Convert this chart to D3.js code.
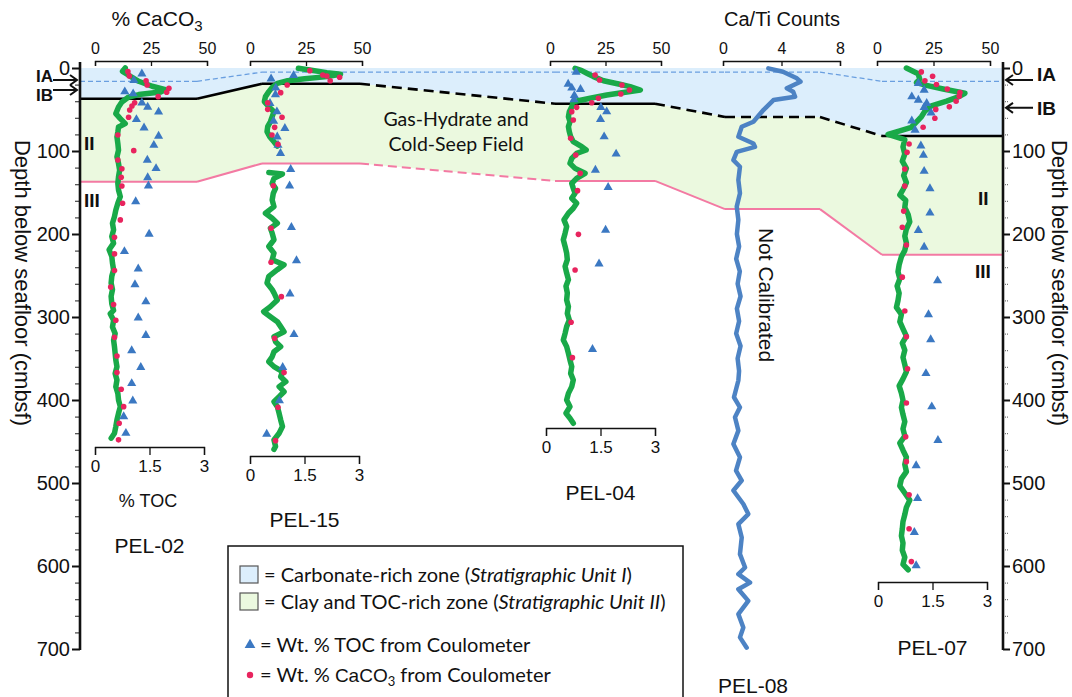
<!DOCTYPE html>
<html>
<head>
<meta charset="utf-8">
<script src="https://cdn.jsdelivr.net/npm/d3@7"></script>
<style>
  body { margin: 0; background: #fff; }
  svg text { font-family: "Liberation Sans", Arial, sans-serif; fill: #111; }
  svg text.calib, svg text.calib tspan { font-family: Lato, "Open Sans", sans-serif; }
  svg text tspan.arial { font-family: "Liberation Sans", Arial, sans-serif; }
</style>
</head>
<body>
<svg id="chart" width="1072" height="697"></svg>
<script>
// ---- data (depth in cm, value) ----
const coreNames = ["PEL-02", "PEL-15", "PEL-04", "PEL-08", "PEL-07"];
const caco3Ticks = [0, 25, 50];
const tocTicks = [0, 1.5, 3];
const caTiTicks = [0, 4, 8];
const depthTicks = [0, 100, 200, 300, 400, 500, 600, 700];

// unit boundaries per core (cm), same order as coreNames
const unitIABase = [16, 5, 5, 5, 16];
const unitIBase = [37, 19, 43, 59, 82];
const unitIIBase = [137, 115, 136, 170, 225];

// zone label arrows (cm)
const arrowsLeft = [["IA", 14.5], ["IB", 26.5]];
const arrowsRight = [["IA", 14.5], ["IB", 48]];

const pel02Line = [[0,13.5],[4,12.3],[10,15.8],[16,19.5],[22,25.5],[26,31.5],[29,29.3],[32,19.5],[35,15],[41,12],[47,10.5],[55,9.3],[61,11.3],[67,13.5],[71,10.5],[77,10.2],[83,9.8],[91,10.2],[99,10.5],[107,9.8],[115,10.5],[123,11],[131,10.5],[139,10.2],[147,10.5],[155,11.3],[163,10.2],[171,9.3],[179,8.7],[187,7.8],[195,8.3],[203,7.5],[211,8.3],[219,6.3],[227,7.5],[235,7.8],[243,8.3],[251,7.5],[259,7.2],[267,7.8],[275,7.2],[284,7.5],[292,8.3],[296,6.8],[304,8.3],[312,7.8],[320,9],[328,8.3],[336,8.7],[344,9],[352,9.3],[360,9.8],[368,9],[376,9.8],[384,9.3],[392,10.2],[400,10.5],[408,11.3],[416,10.5],[424,9.8],[432,9.3],[440,8.7],[446,7.2]];
const pel02Dots = [[4.4,14.7],[9.6,15.3],[15.3,22.8],[20.5,23.3],[24.5,33],[29.3,32],[34.5,28.2],[41.8,17.7],[45.8,16.5],[50.6,15.5],[59.4,15],[80.7,10.2],[99.6,17.3],[110.8,10.2],[121.3,12],[131.7,11.7],[142.2,12],[163,12.3],[183,11.3],[204,8.7],[224,8.7],[244,8.7],[264,7],[285,8.3],[304,9.3],[324.5,8.7],[347,9.8],[367,9.8],[387,11.7],[408,12.8],[428,10.8],[448,10.5]];
const pel02Toc = [[7,1.29],[15,1.07],[28.5,0.82],[31,1.05],[42,1.29],[47,1.45],[53,1.75],[62,1.14],[72,1.35],[82,1.75],[93,1.62],[111,1.44],[121,1.68],[132,1.45],[142,1.47],[161,1.12],[200,1.49],[221,0.81],[242,1.19],[261,1.1],[281.5,1.4],[301,1.19],[322,1.4],[340.5,1.01],[360.6,1.26],[380,1.01],[401,1.04],[420,0.79],[440,0.85]];

const pel15LineTop = [[0.4,21.6],[2.4,26.7],[5.6,34.3],[7.6,40.4],[10.4,34.3],[12.9,24.4],[15.3,16.8],[18.5,12.2],[23.3,9.9],[28.5,8.4],[34.5,6.9],[40.6,6.4],[46.6,8.4],[52.6,10.7],[58.6,9.9],[64.7,9.1],[70.7,7.9],[76.7,7.6],[82.7,8.8],[88.8,10.7],[94,12.2]];
const pel15LineBottom = [[126,8.4],[127.7,14.5],[133,10.7],[139,9.9],[145,11.4],[151,10.4],[159,9.9],[167,10.7],[175,6.9],[181,9.9],[187,12.2],[193,9.1],[199,9.9],[207,10.7],[215,8.4],[223,10.7],[231,9.9],[237,15.2],[243,12.2],[251,8.4],[259,7.6],[267,9.9],[271,10.7],[279.5,12.2],[287.5,9.1],[293.6,6.1],[299.6,9.1],[305.6,12.2],[311.6,13.7],[317.7,15.2],[323.7,10.7],[329.7,11.4],[335.7,13.7],[341.8,10.7],[347.8,9.9],[353.8,8.4],[359.8,10.7],[365.9,14.5],[371.9,13.7],[377.9,16],[383.9,13],[390,15.2],[396,13],[402,10.7],[408,12.2],[416,13],[424,13.7],[432,14.5],[440,13],[448,10.7],[456,11.4],[459.4,10.7]];
const pel15Dots = [[3.2,26.7],[8.4,32.5],[9.6,34.3],[11.2,40],[15.3,35.8],[20.5,16.6],[29.7,13.7],[41.8,7.9],[49.8,7.9],[59.4,14.3],[71.5,11],[80.7,9.8],[92,12.5],[142,10.4],[193,9.4],[234,9.4],[275.5,14],[325.7,11],[367,15.2],[408.8,12.5],[449,11.4]];
const pel15Toc = [[9,1.2],[13,0.58],[24,0.71],[32,0.7],[42.6,0.55],[52.6,0.74],[63.9,0.65],[72.7,0.96],[82.9,0.75],[92.8,0.77],[102.8,0.84],[122,1.12],[142,1.09],[192,1.14],[232,1.28],[272,1.1],[321,1.21],[360.6,0.9],[400.8,0.81],[441,0.46]];

const pel04Line = [[0.4,11.3],[3.2,14.3],[6.4,16.6],[10.4,19.6],[15.3,24.1],[19.3,30.9],[22.5,36.1],[26.5,40.7],[29.3,33.9],[32.5,25.6],[36.5,18.1],[40.6,10.5],[46.6,9.8],[52.6,8.7],[58.6,8.3],[64.7,9],[70.7,8.3],[76.7,8.7],[82.7,9.3],[88.8,10.5],[94.8,14.3],[98.8,16.3],[102.8,12],[108.8,9.8],[114.9,9],[120.9,11.3],[126.9,15.8],[132.9,12],[139,9.8],[145,10.5],[151,11.3],[157,9.8],[163,12],[169,10.5],[175,8.3],[183,6.3],[191,7.5],[199,6.8],[207,6],[215,6.8],[223,7.5],[231,7.8],[239,6.8],[247,7.5],[255,8.3],[263,7.2],[271,7.8],[279.5,7.5],[287.5,8.3],[295.6,7.8],[303.6,8.7],[311.6,7.5],[319.7,6.8],[327.7,6],[335.7,7.5],[343.8,8.3],[351.8,9],[359.8,9.8],[367.9,9.3],[375.9,10.5],[383.9,9.8],[392,8.3],[400,7.5],[408,9],[416,7.2],[422,9],[428,10.5]];
const pel04Dots = [[8.4,20.3],[14.5,22.3],[20.5,32.4],[26.5,35.8],[31.3,31.9],[36.5,21.8],[41.8,18.8],[47.4,12],[52.6,9.8],[62.7,10.5],[84.7,9.3],[104.8,11.6],[126.9,13.6],[147.8,12.4],[200.4,12.8],[243.4,11.3],[306.4,9.5],[349,10.1]];
const pel04Toc = [[5,0.83],[19.3,0.61],[24,0.71],[25.7,0.95],[33,0.78],[38,0.77],[47.4,1.51],[52.6,1.67],[61.8,1.5],[82.7,1.6],[103.6,1.93],[122.9,1.36],[143.8,1.71],[195.2,1.64],[236,1.46],[338.9,1.28]];

const pel08Line = [[0.4,3.1],[4.5,4.1],[12.4,5.05],[16.5,5.3],[24.5,4.36],[28.6,4.8],[34.6,4.93],[38.6,3.45],[50.7,2.76],[64.8,2.08],[70.8,1.28],[82.9,1.05],[90.9,2.08],[95,2.19],[101,0.94],[111,0.71],[119,1.16],[135,1.05],[151,1.16],[167,0.94],[183,1.05],[200,0.95],[215,1.1],[230,0.9],[245,1.15],[260,1.0],[275,1.2],[290,0.95],[305,1.1],[320,0.9],[335,1.2],[350,1.0],[365,1.1],[376.5,1.05],[396.7,0.75],[408.8,1.16],[420.8,0.82],[436.9,1.05],[453,0.71],[469,1.16],[485,0.89],[497,1.28],[509,0.71],[525.3,1.39],[537.4,1.73],[549.5,1.05],[565.7,1.28],[585.7,1.16],[601.8,1.51],[609.8,1.05],[620,1.85],[628,1.05],[642,1.73],[658,1.05],[674,1.39],[686,1.16],[698.4,1.62]];

const pel07Line = [[0,13],[6.9,18.2],[13.3,18.9],[17.6,17.5],[21,21.9],[25.3,29.3],[30.5,38.9],[34.8,36],[40,30.8],[45.6,24.1],[52,21.2],[58.5,19.7],[65,17.5],[71.4,15.2],[75.7,10.1],[80,4.9],[86.4,12.3],[95,11.5],[103.6,12.3],[112.2,11.2],[120.8,13],[129.4,11.8],[138,13],[146.6,11.5],[153,10.1],[159.5,12.7],[168,12.3],[176.7,13.8],[185.3,14.5],[194,13],[202.5,12.3],[211,13],[219.7,12.3],[227.4,10.8],[237,9.8],[245.5,9.3],[254,10.1],[262.7,8.9],[271.3,9.8],[280,9.3],[288.5,8.6],[297,10.8],[305.7,10.1],[314.3,11.5],[323,13],[331.5,11.2],[340,12.3],[348.7,11.5],[357.3,12.3],[366,13],[374.5,11.5],[383,9.8],[391.7,10.8],[400.3,11.5],[409,10.8],[417.5,11.5],[426,12.3],[434.7,11.5],[443.3,12.3],[452,10.1],[460.5,11.5],[469,13],[477.7,12.3],[486.3,13],[495,10.8],[503.5,10.1],[512,12.3],[520.7,14.5],[529.3,13],[538,12.3],[546.5,11.5],[555,11.2],[563.7,10.8],[572.3,11.5],[581,11.2],[589.5,12.3],[598,11.5],[604.5,13.8]];
const pel07Dots = [[4.7,19.6],[9.9,24.6],[15.5,21.2],[19.8,26.3],[25.3,31.1],[29.6,36.7],[34,36.4],[40,35],[46.8,32],[49.9,26],[60.6,25.6],[71.4,20.4],[91.6,14.2],[101.5,13.3],[121.7,12.3],[142.3,12.3],[172.4,11.8],[191.8,11.2],[213.3,13],[252,11.2],[292.8,12.3],[323.8,13],[362.5,13.5],[403.7,13],[444.2,12.7],[474.3,13],[514.3,14.2],[555.1,14.2],[594.7,15.2]];
const pel07Toc = [[18.5,1.11],[26.5,1.27],[34.6,0.93],[38.6,1.11],[42.6,1.34],[47.4,1.27],[54,1.46],[63.6,0.93],[74.8,1.02],[93.8,1.18],[105,1.25],[124.3,1.27],[145.2,1.43],[174.6,1.43],[195.5,1.11],[215.7,1.27],[256.3,1.64],[297.1,1.39],[327.2,1.45],[368,1.32],[408,1.48],[448.5,1.65],[479,1.05],[518.6,1.09],[559.4,1.0],[599.4,1.05]];

// ---- layout ----
const svg = d3.select("#chart");
const axisL = 80, axisR = 1003;
const y = d3.scaleLinear().domain([0, 700]).range([68, 649]);
const colSpans = [[axisL, 197], [262, 360], [555, 655], [725, 820], [882, axisR]];
const blueFill = "#dceefc", greenFill = "#ebf9df";
const greenLine = "#19a948", redDot = "#e8245e", blueTri = "#3b78c2", caTiColor = "#4d83c4";
const fmt = d3.format("~g");

const tracks = {
  "PEL-02": { cx: [95, 207], tx: [95, 204], tocY: 447, nameY: 553 },
  "PEL-15": { cx: [250, 362], tx: [250, 359], tocY: 456, nameY: 527 },
  "PEL-04": { cx: [550, 661], tx: [546, 655], tocY: 428, nameY: 500 },
  "PEL-07": { cx: [877, 990], tx: [878, 987], tocY: 582, nameY: 655 }
};

function styleAxis(g, size) {
  g.selectAll("text").attr("font-size", size).attr("fill", "#111");
  g.selectAll("path,line").attr("stroke", "#111").attr("stroke-width", 1.3);
}

// ---- zones ----
function boundaryPoints(depths) {
  const pts = [];
  depths.forEach((d, i) => {
    pts.push([colSpans[i][0], d]);
    pts.push([colSpans[i][1], d]);
  });
  return pts;
}
const ptsIA = boundaryPoints(unitIABase);
const ptsI = boundaryPoints(unitIBase);
const ptsII = boundaryPoints(unitIIBase);

svg.append("path")
  .attr("d", d3.area().x(p => p[0]).y0(y(0)).y1(p => y(p[1]))(ptsI))
  .attr("fill", blueFill);
svg.append("path")
  .attr("d", d3.area().x(p => p[0]).y0(p => y(p[1])).y1((p, i) => y(ptsII[i][1]))(ptsI))
  .attr("fill", greenFill);

// segment styles: flat, gap, flat, gap ...
const blackStyle = ["s", "s", "s", "d", "s", "d", "d", "d", "s"];
const pinkStyle = ["s", "s", "s", "d", "s", "s", "s", "s", "s"];
function drawBoundary(pts, styles, color, width, dash) {
  for (let i = 0; i < pts.length - 1; i++) {
    svg.append("line")
      .attr("x1", pts[i][0]).attr("y1", y(pts[i][1]))
      .attr("x2", pts[i + 1][0]).attr("y2", y(pts[i + 1][1]))
      .attr("stroke", color).attr("stroke-width", width)
      .attr("stroke-dasharray", styles[i] === "d" ? dash : null);
  }
}
drawBoundary(ptsIA, ptsIA.map(() => "d"), "#6a9fe0", 1.3, "5,3");
drawBoundary(ptsII, pinkStyle, "#f37aa3", 2, "9,5");
drawBoundary(ptsI, blackStyle, "#000", 2.6, "10,6");

// ---- cores ----
function drawCore(name, lines, dots, toc) {
  const t = tracks[name];
  const xc = d3.scaleLinear().domain([0, 50]).range(t.cx);
  const xt = d3.scaleLinear().domain([0, 3]).range(t.tx);
  const g = svg.append("g");
  const line = d3.line().x(d => xc(d[1])).y(d => y(d[0]));
  lines.forEach(l => {
    g.append("path").attr("d", line(l))
      .attr("fill", "none").attr("stroke", greenLine)
      .attr("stroke-width", 5.5).attr("stroke-linejoin", "round").attr("stroke-linecap", "round");
  });
  g.selectAll(".tri").data(toc).join("path")
    .attr("d", d3.symbol(d3.symbolTriangle, 36))
    .attr("transform", d => `translate(${xt(d[1])},${y(d[0])})`)
    .attr("fill", blueTri);
  g.selectAll(".dot").data(dots).join("circle")
    .attr("cx", d => xc(d[1])).attr("cy", d => y(d[0])).attr("r", 2.8)
    .attr("fill", redDot);

  const top = g.append("g").attr("transform", "translate(0,61)")
    .call(d3.axisTop(xc).tickValues(caco3Ticks).tickFormat(fmt).tickSize(-5).tickPadding(7));
  styleAxis(top, 16);

  const bot = g.append("g").attr("transform", `translate(0,${t.tocY})`)
    .call(d3.axisBottom(xt).tickValues(tocTicks).tickFormat(fmt).tickSize(8).tickPadding(5));
  styleAxis(bot, 17);

  svg.append("text").attr("x", d3.mean(t.tx)).attr("y", t.nameY)
    .attr("text-anchor", "middle").attr("font-size", 21).text(name);
}
drawCore("PEL-02", [pel02Line], pel02Dots, pel02Toc);
drawCore("PEL-15", [pel15LineTop, pel15LineBottom], pel15Dots, pel15Toc);
drawCore("PEL-04", [pel04Line], pel04Dots, pel04Toc);
drawCore("PEL-07", [pel07Line], pel07Dots, pel07Toc);

// PEL-08 Ca/Ti
const xCaTi = d3.scaleLinear().domain([0, 8]).range([723, 840]);
svg.append("path")
  .attr("d", d3.line().x(d => xCaTi(d[1])).y(d => y(d[0]))(pel08Line))
  .attr("fill", "none").attr("stroke", caTiColor).attr("stroke-width", 4.5)
  .attr("stroke-linejoin", "round").attr("stroke-linecap", "round");
const caAxis = svg.append("g").attr("transform", "translate(0,61)")
  .call(d3.axisTop(xCaTi).tickValues(caTiTicks).tickFormat(fmt).tickSize(-5).tickPadding(7));
styleAxis(caAxis, 16);
svg.append("text").attr("x", 753).attr("y", 693).attr("text-anchor", "middle").attr("font-size", 21).text("PEL-08");

// titles
const ct = svg.append("text").attr("x", 157).attr("y", 26).attr("text-anchor", "middle").attr("font-size", 21);
ct.append("tspan").text("% CaCO");
ct.append("tspan").attr("font-size", 15).attr("dy", 5).text("3");
svg.append("text").attr("x", 782).attr("y", 26).attr("text-anchor", "middle").attr("font-size", 20).text("Ca/Ti Counts");
svg.append("text").attr("x", 148).attr("y", 507).attr("text-anchor", "middle").attr("font-size", 18).text("% TOC");

// ---- depth axes ----
const minorTicks = d3.range(0, 701, 20).filter(v => v % 100 !== 0);
const la = svg.append("g").attr("transform", `translate(${axisL},0)`)
  .call(d3.axisLeft(y).tickValues(depthTicks).tickSize(8).tickPadding(2));
la.select(".domain").remove();
la.selectAll("text").attr("font-size", 20).attr("fill", "#111");
la.selectAll("line").attr("stroke", "#111").attr("stroke-width", 2);
const lm = svg.append("g").attr("transform", `translate(${axisL},0)`)
  .call(d3.axisLeft(y).tickValues(minorTicks).tickSize(5).tickFormat(""));
lm.select(".domain").remove();
lm.selectAll("line").attr("stroke", "#444").attr("stroke-width", 1.2);
svg.append("line").attr("x1", axisL).attr("x2", axisL).attr("y1", 62).attr("y2", y(700) + 1)
  .attr("stroke", "#111").attr("stroke-width", 2.6);

const ra = svg.append("g").attr("transform", `translate(${axisR},0)`)
  .call(d3.axisRight(y).tickValues(depthTicks).tickSize(7).tickPadding(2));
ra.select(".domain").remove();
ra.selectAll("text").attr("font-size", 20).attr("fill", "#111");
ra.selectAll("line").attr("stroke", "#111").attr("stroke-width", 2);
const rm = svg.append("g").attr("transform", `translate(${axisR},0)`)
  .call(d3.axisRight(y).tickValues(minorTicks).tickSize(5).tickFormat(""));
rm.select(".domain").remove();
rm.selectAll("line").attr("stroke", "#777").attr("stroke-width", 1.2).attr("stroke-dasharray", "1,1");
svg.append("line").attr("x1", axisR).attr("x2", axisR).attr("y1", 62).attr("y2", y(700) + 1)
  .attr("stroke", "#111").attr("stroke-width", 2.6);

svg.append("text").attr("transform", "translate(23,283) rotate(90)")
  .attr("text-anchor", "middle").attr("dy", "0.35em").attr("font-size", 22).text("Depth below seafloor (cmbsf)");
svg.append("text").attr("transform", "translate(1060,283) rotate(90)")
  .attr("text-anchor", "middle").attr("dy", "0.35em").attr("font-size", 22).text("Depth below seafloor (cmbsf)");

// ---- zone labels and arrows ----
function bold(x, yy, s, anchor, size) {
  svg.append("text").attr("x", x).attr("y", yy).attr("text-anchor", anchor || "start")
    .attr("font-size", size || 19).attr("font-weight", "bold").text(s);
}
arrowsLeft.forEach(([lab, d], i) => {
  const yy = y(d);
  bold(53, yy + (i === 0 ? 1.5 : 11), lab, "end", 17);
  svg.append("path").attr("d", `M53,${yy}H77M70,${yy - 5}L77,${yy}L70,${yy + 5}`)
    .attr("fill", "none").attr("stroke", "#111").attr("stroke-width", 2);
});
arrowsRight.forEach(([lab, d], i) => {
  const yy = y(d);
  bold(1037, yy + (i === 0 ? 1 : 7), lab);
  svg.append("path").attr("d", `M1033,${yy}H1006M1013,${yy - 5}L1006,${yy}L1013,${yy + 5}`)
    .attr("fill", "none").attr("stroke", "#111").attr("stroke-width", 2);
});
bold(84, 150, "II");
bold(84, 207, "III");
bold(978, 205, "II");
bold(975, 278, "III");

svg.append("text").attr("class", "calib").attr("x", 456).attr("y", 126)
  .attr("text-anchor", "middle").attr("font-size", 19.5).text("Gas-Hydrate and");
svg.append("text").attr("class", "calib").attr("x", 456).attr("y", 151)
  .attr("text-anchor", "middle").attr("font-size", 19.5).text("Cold-Seep Field");
svg.append("text").attr("transform", "translate(766,295) rotate(90)")
  .attr("text-anchor", "middle").attr("dy", "0.35em").attr("font-size", 21).text("Not Calibrated");

// ---- legend ----
const lg = svg.append("g");
lg.append("rect").attr("x", 228).attr("y", 546).attr("width", 455).attr("height", 170)
  .attr("fill", "#fff").attr("stroke", "#111").attr("stroke-width", 1.5);
lg.append("rect").attr("x", 240).attr("y", 566).attr("width", 18).attr("height", 17)
  .attr("fill", blueFill).attr("stroke", "#555").attr("stroke-width", 1.2);
lg.append("rect").attr("x", 240).attr("y", 593).attr("width", 18).attr("height", 17)
  .attr("fill", greenFill).attr("stroke", "#555").attr("stroke-width", 1.2);
lg.append("path").attr("d", d3.symbol(d3.symbolTriangle, 50)).attr("transform", "translate(250,645)").attr("fill", blueTri);
lg.append("circle").attr("cx", 250).attr("cy", 675).attr("r", 3.2).attr("fill", redDot);
function legendText(yy, x, parts) {
  const t = lg.append("text").attr("class", "calib").attr("x", x).attr("y", yy).attr("font-size", 20);
  parts.forEach(p => {
    const s = t.append("tspan").text(p[0]);
    if (p[1] === "i") s.attr("font-style", "italic");
    if (p[1] === "a") s.attr("class", "arial").attr("font-size", 19);
    if (p[1] === "sub") s.attr("font-size", 13).attr("dy", 4);
    if (p[1] === "after") s.attr("dy", -4);
  });
}
legendText(582, 264, [["= Carbonate-rich zone ("], ["Stratigraphic Unit I", "i"], [")"]]);
legendText(609, 264, [["= Clay and TOC-rich zone ("], ["Stratigraphic Unit II", "i"], [")"]]);
legendText(652, 260, [["= Wt. % TOC from Coulometer"]]);
legendText(682, 260, [["= Wt. % "], ["CaCO", "a"], ["3", "sub"], [" from Coulometer", "after"]]);
</script>
</body>
</html>
